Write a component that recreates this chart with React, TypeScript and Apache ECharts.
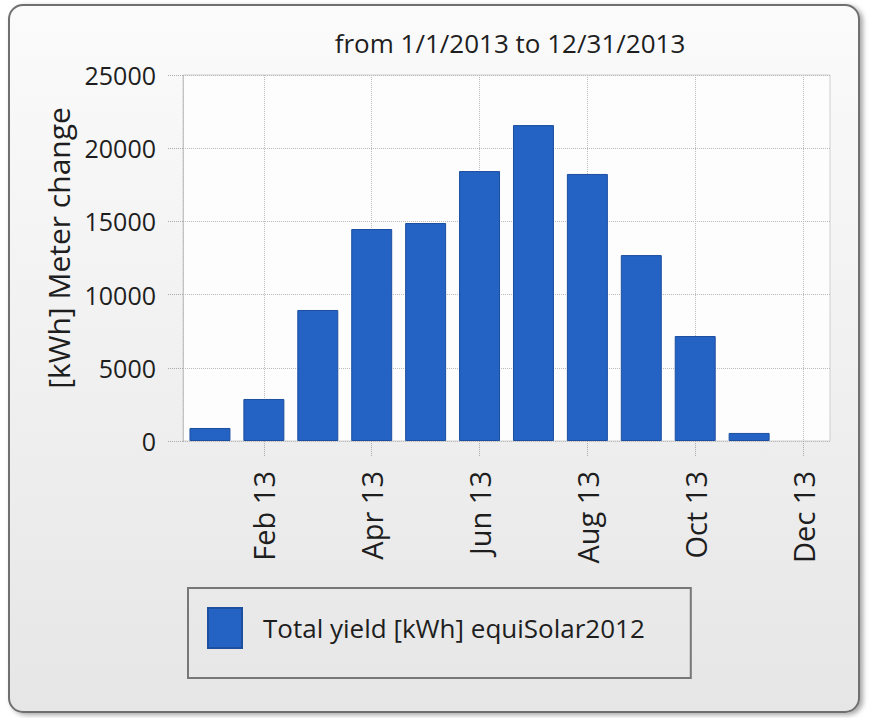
import React, { useEffect, useRef } from "react";
import * as echarts from "echarts";

const months = ["Jan 13", "Feb 13", "Mar 13", "Apr 13", "May 13", "Jun 13", "Jul 13", "Aug 13", "Sep 13", "Oct 13", "Nov 13", "Dec 13"];
const yieldValues = [890, 2870, 8950, 14480, 14890, 18440, 21580, 18240, 12700, 7170, 550, 0];
const seriesName = "Total yield [kWh] equiSolar2012";
const titleText = "from 1/1/2013 to 12/31/2013";
const yAxisName = "[kWh] Meter change";
const yMin = 0;
const yMax = 25000;
const yStep = 5000;

const FONT = "'Open Sans', 'Liberation Sans', sans-serif";
const everyOther = (index: number) => index % 2 === 1;

export default function App() {
  const ref = useRef<HTMLDivElement>(null);

  useEffect(() => {
    if (!ref.current) return;
    const chart = echarts.init(ref.current, undefined, { renderer: "svg" });
    const option: any = {
      animation: false,
      graphic: [
        {
          type: "rect",
          z: -100,
          silent: true,
          shape: { x: 9, y: 5, width: 850, height: 707, r: 14 },
          style: {
            fill: new echarts.graphic.LinearGradient(0, 0, 0, 1, [
              { offset: 0, color: "#fbfbfb" },
              { offset: 1, color: "#e6e6e6" },
            ]),
            stroke: "#6f6f6f",
            lineWidth: 2,
            shadowBlur: 5,
            shadowOffsetX: 3,
            shadowOffsetY: 2,
            shadowColor: "rgba(0,0,0,0.35)",
          },
        },
      ],
      title: {
        text: titleText,
        left: 510,
        top: 30,
        padding: 0,
        textAlign: "center",
        textStyle: { fontFamily: FONT, fontSize: 26, fontWeight: "normal", color: "#1e1e1e" },
      },
      grid: {
        left: 183,
        top: 75,
        right: 47,
        bottom: 277,
        show: true,
        backgroundColor: "#fdfdfd",
        borderColor: "#cfcfcf",
        borderWidth: 1,
        containLabel: false,
      },
      legend: {
        left: 188,
        top: 588,
        orient: "horizontal",
        icon: "rect",
        itemWidth: 34,
        itemHeight: 40,
        padding: [19, 46, 29, 19],
        borderColor: "#777",
        borderWidth: 2,
        backgroundColor: "transparent",
        textStyle: { fontFamily: FONT, fontSize: 26, color: "#1e1e1e", padding: [0, 0, 0, 16] },
        data: [seriesName],
      },
      xAxis: {
        type: "category",
        data: months,
        boundaryGap: true,
        axisLine: { show: false },
        axisTick: {
          show: true,
          alignWithLabel: true,
          interval: everyOther,
          length: 16,
          lineStyle: { color: "#aaa", type: "dotted", width: 1 },
        },
        axisLabel: {
          interval: everyOther,
          rotate: 90,
          margin: 30,
          fontFamily: FONT,
          fontSize: 29,
          color: "#1e1e1e",
        },
        splitLine: {
          show: true,
          alignWithLabel: true,
          interval: everyOther,
          lineStyle: { color: "#bbb", type: "dotted", width: 1 },
        },
      },
      yAxis: {
        type: "value",
        min: yMin,
        max: yMax,
        interval: yStep,
        name: yAxisName,
        nameLocation: "middle",
        nameGap: 108,
        nameTextStyle: { fontFamily: FONT, fontSize: 30, color: "#1e1e1e", padding: [0, 0, 0, 20] },
        axisLine: { show: true, lineStyle: { color: "#bbb", type: "dotted" } },
        axisTick: { show: true, length: 16, lineStyle: { color: "#aaa", type: "dotted" } },
        axisLabel: {
          margin: 27,
          fontFamily: FONT,
          fontSize: 25,
          color: "#1e1e1e",
          formatter: (v: number) => String(v),
        },
        splitLine: { show: true, lineStyle: { color: "#bbb", type: "dotted", width: 1 } },
      },
      series: [
        {
          name: seriesName,
          type: "bar",
          barCategoryGap: "24%",
          itemStyle: { color: "#2462c3", borderColor: "#1c4f9f", borderWidth: 1 },
          data: yieldValues.map((v) => (v === 0 ? { value: v, itemStyle: { borderWidth: 0 } } : v)),
        },
      ],
    };
    chart.setOption(option);
    return () => chart.dispose();
  }, []);

  return (
    <div
      ref={ref}
      style={{ position: "absolute", left: 0, top: 0, width: 877, height: 718 }}
    />
  );
}
